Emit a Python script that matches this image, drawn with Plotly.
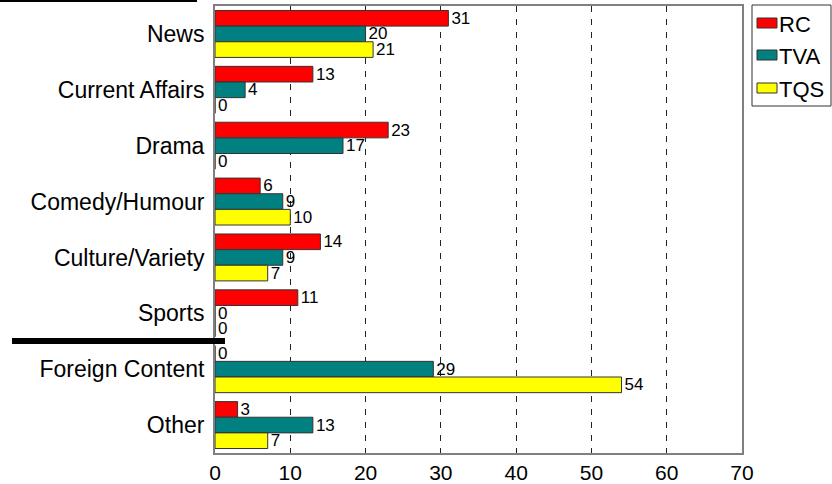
import plotly.graph_objects as go

categories = ["News", "Current Affairs", "Drama", "Comedy/Humour",
              "Culture/Variety", "Sports", "Foreign Content", "Other"]
series_names = ["RC", "TVA", "TQS"]
rc_values = [31, 13, 23, 6, 14, 11, 0, 3]
tva_values = [20, 4, 17, 9, 9, 0, 29, 13]
tqs_values = [21, 0, 0, 10, 7, 0, 54, 7]
x_ticks = [0, 10, 20, 30, 40, 50, 60, 70]

colors = ["#FF0000", "#008080", "#FFFF00"]
FONT = "Liberation Sans, Arial, sans-serif"

# layout geometry (pixels) -> paper coords
L, R, T, B = 215, 90, 6, 31
W, H = 832, 484
PW, PH = W - L - R, H - T - B


def px(x):
    return (x - L) / PW


def py(y):
    return (H - B - y) / PH


fig = go.Figure()
for name, vals, col in zip(series_names, [rc_values, tva_values, tqs_values], colors):
    fig.add_trace(go.Bar(
        y=categories, x=vals, name=name, orientation="h",
        marker=dict(color=col, line=dict(color="#333333", width=1)),
        text=[str(v) for v in vals], textposition="outside",
        constraintext="none",
        textfont=dict(size=17, color="black", family=FONT),
        cliponaxis=False, showlegend=False, hoverinfo="skip",
    ))

fig.update_layout(
    width=W, height=H,
    margin=dict(l=L, r=R, t=T, b=B, autoexpand=False),
    paper_bgcolor="white", plot_bgcolor="white",
    barmode="group", bargap=0.16, bargroupgap=0,
    font=dict(family=FONT, color="black", size=20),
    showlegend=False,
)
fig.update_xaxes(
    range=[0, 70], tickvals=x_ticks, ticktext=[str(t) for t in x_ticks],
    showgrid=True, gridcolor="#222222", gridwidth=1, griddash="6px,7px",
    showline=True, linecolor="#808080", linewidth=2, mirror=True,
    zeroline=False, ticks="", tickfont=dict(size=21, family=FONT),
)
fig.update_yaxes(
    autorange="reversed", showgrid=False,
    showline=True, linecolor="#808080", linewidth=2, mirror=True,
    ticks="", ticklabelstandoff=4, tickfont=dict(size=23, family=FONT),
)

# manual legend (box, swatches, labels)
fig.add_shape(type="rect", xref="paper", yref="paper",
              x0=px(752), x1=px(831), y0=py(5), y1=py(106),
              line=dict(color="#333333", width=1), fillcolor="white", layer="above")
row_centers = [23, 55, 88]
for name, col, yc in zip(series_names, colors, row_centers):
    fig.add_shape(type="rect", xref="paper", yref="paper",
                  x0=px(757), x1=px(777), y0=py(yc - 5), y1=py(yc + 5),
                  line=dict(color="#333333", width=1), fillcolor=col, layer="above")
    fig.add_annotation(text=name, xref="paper", yref="paper",
                       x=px(777), y=py(yc + 1), xanchor="left", yanchor="middle",
                       showarrow=False, font=dict(size=22, family=FONT, color="black"))

# decorative black lines present in the reference image
fig.add_shape(type="line", xref="paper", yref="paper",
              x0=px(0), x1=px(197), y0=py(1), y1=py(1),
              line=dict(color="black", width=2))
fig.add_shape(type="line", xref="paper", yref="paper",
              x0=px(12), x1=px(225), y0=py(341), y1=py(341),
              line=dict(color="black", width=6))

fig.write_html("out.html",
               config={"displayModeBar": False, "staticPlot": True},
               post_script="document.body.style.margin='0px';"
                           "document.body.style.overflow='hidden';")
